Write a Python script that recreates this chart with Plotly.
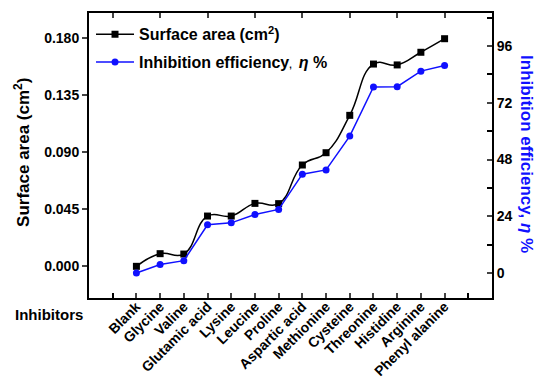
import plotly.graph_objects as go

inhibitors = ["Blank", "Glycine", "Valine", "Glutamic acid", "Lysine", "Leucine",
              "Proline", "Aspartic acid", "Methionine", "Cysteine", "Threonine",
              "Histidine", "Arginine", "Phenyl alanine"]
surface_area = [0.000, 0.0100, 0.0097, 0.0397, 0.0397, 0.0497, 0.0495, 0.0800,
                0.0897, 0.1192, 0.1597, 0.1590, 0.1690, 0.1797]
efficiency = [0.0, 3.6, 5.2, 20.4, 21.2, 24.7, 26.9, 41.8, 43.6, 57.9, 78.7,
              78.8, 85.4, 87.8]
left_ticks = [0.0, 0.045, 0.090, 0.135, 0.180]
right_ticks = [0, 24, 48, 72, 96]

idx = list(range(len(inhibitors)))
FONT = "Liberation Sans, Arial, sans-serif"
BLUE = "#1010ff"

fig = go.Figure()
fig.add_trace(go.Scatter(
    x=idx, y=surface_area, mode="lines+markers",
    name="Surface area (cm<sup>2</sup>)",
    line=dict(color="black", width=1.5, shape="spline", smoothing=1.3),
    marker=dict(symbol="square", size=7, color="black"),
    legendgroup="a", xaxis="x", yaxis="y"))
fig.add_trace(go.Scatter(
    x=idx, y=efficiency, mode="lines+markers",
    name="Inhibition efficiency<span style='font-size:9px'>, </span> <i>η</i> %",
    line=dict(color=BLUE, width=1.5),
    marker=dict(symbol="circle", size=7, color=BLUE),
    legendgroup="b", xaxis="x", yaxis="y2"))
# empty trace to activate the top frame axis
fig.add_trace(go.Scatter(x=[], y=[], xaxis="x2", yaxis="y", showlegend=False,
                         hoverinfo="skip"))

fig.update_layout(
    width=539, height=378,
    margin=dict(l=89, r=47, t=13, b=80),
    plot_bgcolor="white", paper_bgcolor="white",
    font=dict(family=FONT, size=14, color="black", weight="bold"),
    showlegend=True,
    legend=dict(x=0.005, y=0.985, xanchor="left", yanchor="top",
                bgcolor="rgba(0,0,0,0)", borderwidth=0,
                font=dict(family=FONT, size=16, color="black", weight="bold"),
                traceorder="grouped", tracegroupgap=4, itemwidth=38),
    xaxis=dict(range=[-2, 15], tickmode="array", tickvals=idx,
               ticktext=inhibitors, tickangle=-45, ticks="inside", ticklen=5,
               tickwidth=1.5, automargin=False, ticklabelstandoff=-7,
               minor=dict(tickmode="array", tickvals=[-1, len(idx)],
                          ticks="inside", ticklen=5, tickwidth=1.5,
                          tickcolor="black"),
               showline=True, linecolor="black", linewidth=2,
               showgrid=False, zeroline=False,
               tickfont=dict(family=FONT, size=14, weight="bold")),
    xaxis2=dict(range=[-2, 15], overlaying="x", anchor="y", side="top",
                tickmode="array", tickvals=[-1, 1, 3, 5, 7, 9, 11, 13],
                showticklabels=False, ticks="inside", ticklen=5, tickwidth=1.5,
                showline=True, linecolor="black", linewidth=2, automargin=False,
                showgrid=False, zeroline=False),
    yaxis=dict(range=[-0.025, 0.2], tickmode="array", tickvals=left_ticks,
               ticktext=[f"{v:.3f}" for v in left_ticks],
               ticks="outside", ticklen=5, tickwidth=1.5, automargin=False,
               showline=True, linecolor="black", linewidth=2,
               showgrid=False, zeroline=False,
               tickfont=dict(family=FONT, size=14, weight="bold")),
    yaxis2=dict(range=[-10.6, 110], overlaying="y", side="right", anchor="x",
                tickmode="array", tickvals=right_ticks, automargin=False,
                ticks="inside", ticklen=5, tickwidth=1.5,
                minor=dict(tickmode="array", tickvals=[12, 36, 60, 84, 108],
                           ticks="inside", ticklen=5, tickwidth=1.5,
                           tickcolor="black"),
                showline=True, linecolor="black", linewidth=2,
                showgrid=False, zeroline=False,
                tickfont=dict(family=FONT, size=14, weight="bold")),
    annotations=[
        dict(text="Surface area (cm<sup>2</sup>)", textangle=-90,
             xref="paper", yref="paper", x=(22 - 89) / 403, y=0.509,
             xanchor="center", yanchor="middle", showarrow=False,
             font=dict(family=FONT, size=17, color="black", weight="bold")),
        dict(text="Inhibition efficiency, <i>η</i> %", textangle=90,
             xref="paper", yref="paper", x=(527 - 89) / 403, y=0.505,
             xanchor="center", yanchor="middle", showarrow=False,
             font=dict(family=FONT, size=17, color=BLUE, weight="bold")),
        dict(text="Inhibitors", xref="paper", yref="paper",
             x=(13 - 89) / 403, y=(298 - 314) / 285,
             xanchor="left", yanchor="middle", showarrow=False,
             font=dict(family=FONT, size=15, color="black", weight="bold")),
    ],
)

fig.write_html("out.html")
